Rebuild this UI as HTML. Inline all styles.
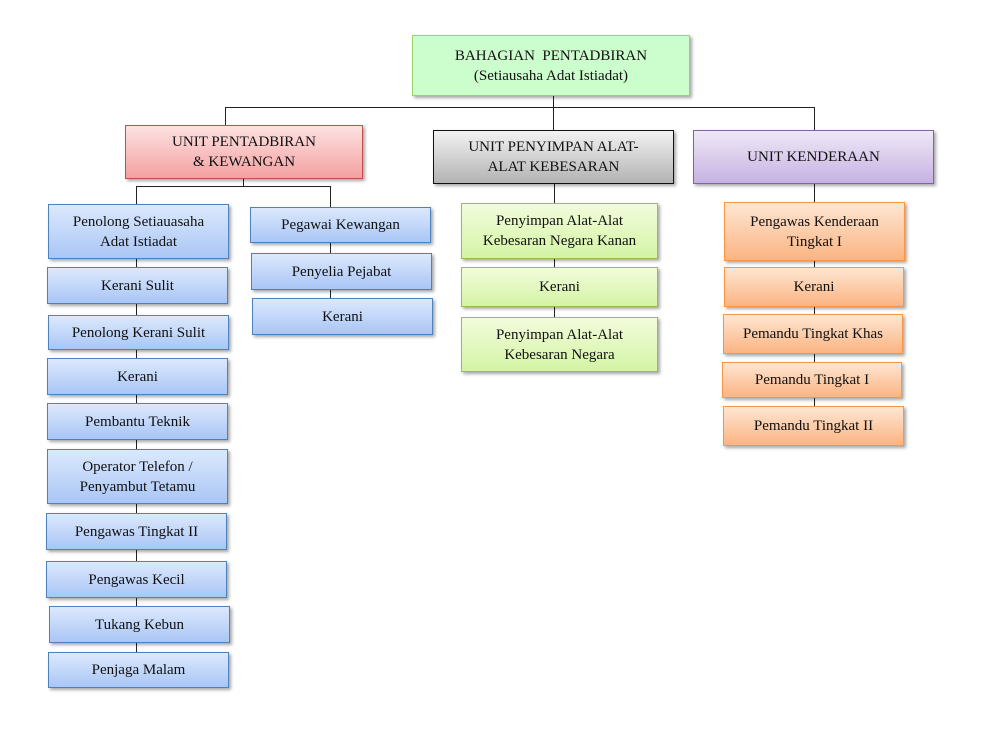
<!DOCTYPE html>
<html><head><meta charset="utf-8"><style>
body{margin:0;width:991px;height:739px;background:#fff;position:relative;overflow:hidden;font-family:"Liberation Serif",serif;}
.b{position:absolute;box-sizing:border-box;display:flex;align-items:center;justify-content:center;text-align:center;font-size:15px;line-height:20px;color:#111;box-shadow:2px 2px 3px rgba(0,0,0,0.35);}
.bl{background:linear-gradient(#dce9fd,#a9c6f6);border:1px solid #4f81bd;}
.gr{background:linear-gradient(#f2fcdc,#d4f4a4);border:1px solid #9bbb59;}
.or{background:linear-gradient(#fee6d2,#fbb482);border:1px solid #f79646;}
.l{position:absolute;background:#222;}
</style></head><body>
<div class="l" style="left:553px;top:95px;width:1px;height:36px"></div>
<div class="l" style="left:225px;top:107px;width:590px;height:1px"></div>
<div class="l" style="left:225px;top:107px;width:1px;height:18px"></div>
<div class="l" style="left:814px;top:107px;width:1px;height:23px"></div>
<div class="l" style="left:243px;top:178px;width:1px;height:9px"></div>
<div class="l" style="left:136px;top:186px;width:195px;height:1px"></div>
<div class="l" style="left:136px;top:186px;width:1px;height:480px"></div>
<div class="l" style="left:330px;top:186px;width:1px;height:130px"></div>
<div class="l" style="left:554px;top:183px;width:1px;height:170px"></div>
<div class="l" style="left:814px;top:183px;width:1px;height:240px"></div>

<div class="b" style="left:412px;top:35px;width:278px;height:61px;background:#ccfdcc;border:1px solid #9bd26c;">BAHAGIAN&nbsp; PENTADBIRAN<br>(Setiausaha Adat Istiadat)</div>
<div class="b" style="left:125px;top:125px;width:238px;height:54px;background:linear-gradient(#fde2e2,#f4a0a0);border:1px solid #c0504d;">UNIT PENTADBIRAN<br>&amp; KEWANGAN</div>
<div class="b" style="left:433px;top:130px;width:241px;height:54px;background:linear-gradient(#f2f2f2,#b3b3b3);border:1px solid #111;">UNIT PENYIMPAN ALAT-<br>ALAT KEBESARAN</div>
<div class="b" style="left:693px;top:130px;width:241px;height:54px;background:linear-gradient(#efe8f7,#c6b2e2);border:1px solid #8064a2;">UNIT KENDERAAN</div>

<div class="b bl" style="left:48px;top:204px;width:181px;height:55px">Penolong Setiauasaha<br>Adat Istiadat</div>
<div class="b bl" style="left:47px;top:267px;width:181px;height:37px">Kerani Sulit</div>
<div class="b bl" style="left:48px;top:315px;width:181px;height:35px">Penolong Kerani Sulit</div>
<div class="b bl" style="left:47px;top:358px;width:181px;height:37px">Kerani</div>
<div class="b bl" style="left:47px;top:403px;width:181px;height:37px">Pembantu Teknik</div>
<div class="b bl" style="left:47px;top:449px;width:181px;height:55px">Operator Telefon /<br>Penyambut Tetamu</div>
<div class="b bl" style="left:46px;top:513px;width:181px;height:37px">Pengawas Tingkat II</div>
<div class="b bl" style="left:46px;top:561px;width:181px;height:37px">Pengawas Kecil</div>
<div class="b bl" style="left:49px;top:606px;width:181px;height:37px">Tukang Kebun</div>
<div class="b bl" style="left:48px;top:652px;width:181px;height:36px">Penjaga Malam</div>

<div class="b bl" style="left:250px;top:207px;width:181px;height:36px">Pegawai Kewangan</div>
<div class="b bl" style="left:251px;top:253px;width:181px;height:37px">Penyelia Pejabat</div>
<div class="b bl" style="left:252px;top:298px;width:181px;height:37px">Kerani</div>

<div class="b gr" style="left:461px;top:203px;width:197px;height:56px">Penyimpan Alat-Alat<br>Kebesaran Negara Kanan</div>
<div class="b gr" style="left:461px;top:267px;width:197px;height:40px">Kerani</div>
<div class="b gr" style="left:461px;top:317px;width:197px;height:55px">Penyimpan Alat-Alat<br>Kebesaran Negara</div>

<div class="b or" style="left:724px;top:202px;width:181px;height:59px">Pengawas Kenderaan<br>Tingkat I</div>
<div class="b or" style="left:724px;top:267px;width:180px;height:40px">Kerani</div>
<div class="b or" style="left:723px;top:314px;width:180px;height:40px">Pemandu Tingkat Khas</div>
<div class="b or" style="left:722px;top:362px;width:180px;height:36px">Pemandu Tingkat I</div>
<div class="b or" style="left:723px;top:406px;width:181px;height:40px">Pemandu Tingkat II</div>
</body></html>
